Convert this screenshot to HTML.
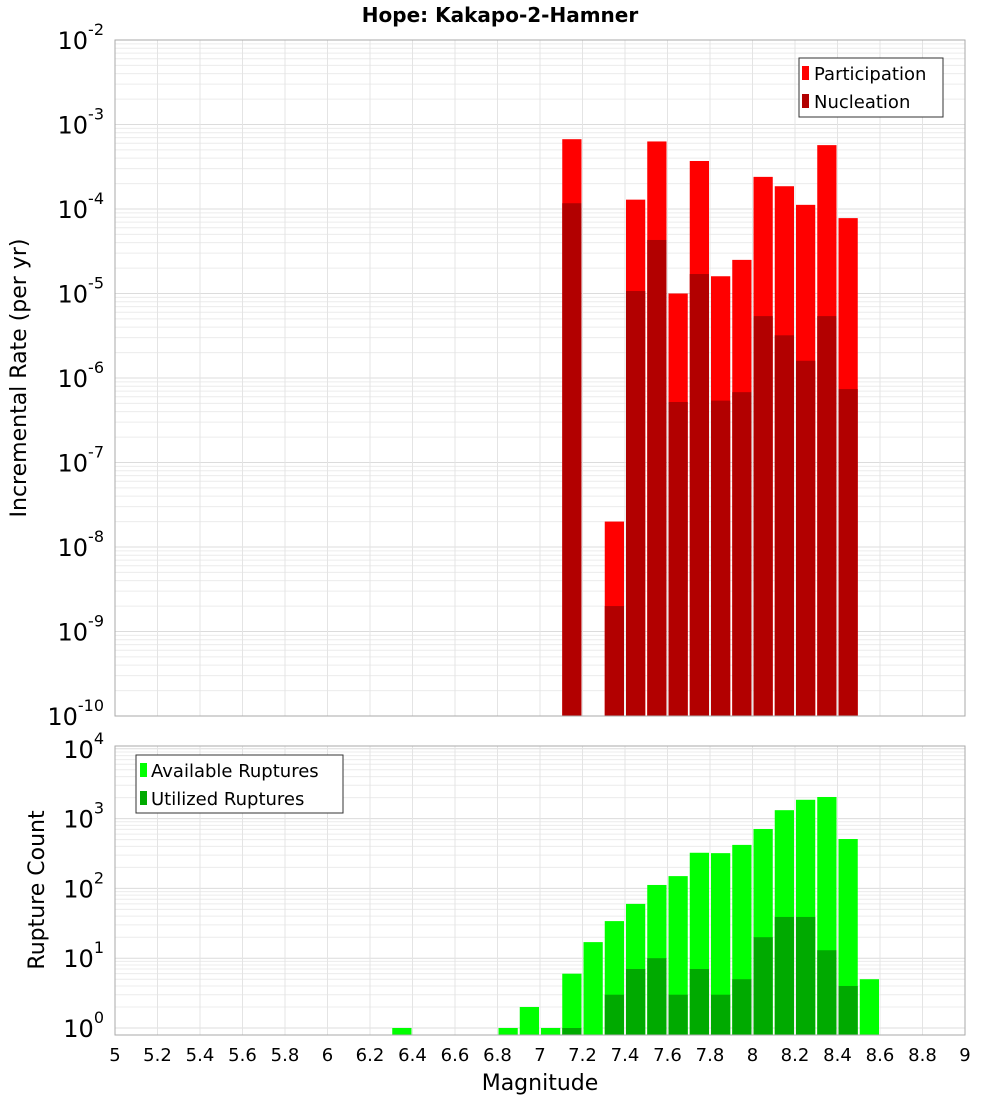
<!DOCTYPE html>
<html><head><meta charset="utf-8"><style>
body{margin:0;background:#fff;font-family:"Liberation Sans","DejaVu Sans",sans-serif}
svg text{font-family:"DejaVu Sans","Liberation Sans",sans-serif}
</style></head><body>
<svg id="c" width="1000" height="1100" xmlns="http://www.w3.org/2000/svg">
<text x="500" y="22" text-anchor="middle" font-size="20" font-weight="bold">Hope: Kakapo-2-Hamner</text>
<g id="top"></g>
<g id="bot"></g>
<text x="26" y="378" transform="rotate(-90 26 378)" text-anchor="middle" font-size="22">Incremental Rate (per yr)</text>
<text x="44" y="890" transform="rotate(-90 44 890)" text-anchor="middle" font-size="22">Rupture Count</text>
<text x="540" y="1090" text-anchor="middle" font-size="22">Magnitude</text>
<g>
<rect x="799" y="58" width="144" height="59" fill="#fff" stroke="#333"/>
<rect x="802" y="66" width="7" height="14" fill="#ff0000"/><text x="814" y="80" font-size="18">Participation</text>
<rect x="802" y="94" width="7" height="14" fill="#b20000"/><text x="814" y="108" font-size="18">Nucleation</text>
</g>
<g>
<rect x="136" y="755" width="207" height="58" fill="#fff" stroke="#333"/>
<rect x="140" y="763" width="7" height="14" fill="#00ff00"/><text x="151" y="777" font-size="18">Available Ruptures</text>
<rect x="140" y="791" width="7" height="14" fill="#00aa00"/><text x="151" y="805" font-size="18">Utilized Ruptures</text>
</g>
</svg>
<script>
const mags=[7.1,7.3,7.4,7.5,7.6,7.7,7.8,7.9,8.0,8.1,8.2,8.3,8.4];
const partic=[6.7e-4,2e-8,1.29e-4,6.3e-4,1.0e-5,3.7e-4,1.6e-5,2.5e-5,2.4e-4,1.86e-4,1.12e-4,5.7e-4,7.8e-5];
const nucl=[1.17e-4,2.0e-9,1.07e-5,4.3e-5,5.2e-7,1.7e-5,5.4e-7,6.8e-7,5.4e-6,3.2e-6,1.6e-6,5.4e-6,7.4e-7];
const cmags=[6.3,6.8,6.9,7.0,7.1,7.2,7.3,7.4,7.5,7.6,7.7,7.8,7.9,8.0,8.1,8.2,8.3,8.4,8.5];
const avail=[1,1,2,1,6,17,34,60,112,150,324,320,420,710,1320,1860,2040,510,5];
const used=[0,0,0,0,1,0,3,7,10,3,7,3,5,20,39,39,13,4,0];
const xTicks=[5,5.2,5.4,5.6,5.8,6,6.2,6.4,6.6,6.8,7,7.2,7.4,7.6,7.8,8,8.2,8.4,8.6,8.8,9];
const NS="http://www.w3.org/2000/svg";
const X0=115,X1=965;
const xs=m=>X0+(m-5)/4*(X1-X0);
const yTop=v=>40+(-2-Math.log10(v))*84.5;
const yBot=v=>1028-Math.log10(v)*69.8;
function mk(p,t,a){const e=document.createElementNS(NS,t);for(const k in a)e.setAttribute(k,a[k]);p.appendChild(e);return e;}
function panel(g,top,bot,yf,dmin,dmax,name){
  mk(g,'rect',{x:X0,y:top,width:X1-X0,height:bot-top,fill:'#fff'});
  for(let d=dmin;d<=dmax;d++){for(let k=1;k<10;k++){const y=yf(k*Math.pow(10,d));if(y<top-0.5||y>bot+0.5)continue;
    const l=mk(g,'line',{x1:X0,x2:X1,y1:y,y2:y,stroke:k==1?'#dcdcdc':'#ececec','stroke-width':1});
    
    }}
  xTicks.forEach(t=>{const l=mk(g,'line',{x1:xs(t),x2:xs(t),y1:top,y2:bot,stroke:'#e4e4e4'});
    
    });
}
function labels(g,yf,dmin,dmax,name){
  for(let d=dmin;d<=dmax;d++){const y=yf(Math.pow(10,d));
    const t=mk(g,'text',{x:104,y:y+9,'text-anchor':'end','font-size':24});
    
    
    t.textContent='10';
    const s=mk(t,'tspan',{dy:-14,'font-size':16});s.textContent=String(d);}
}
function bar(g,m,v,yf,base,fill,name){const x=xs(m)+1,w=xs(m+0.1)-xs(m)-2,y=yf(v);
  const r=mk(g,'rect',{x:x,y:y,width:w,height:base-y,fill:fill});
  
  }
const gt=document.getElementById('top');
panel(gt,40,716,yTop,-10,-2,'rate');
mags.forEach((m,i)=>{bar(gt,m,partic[i],yTop,716,'#ff0000','participation-bar');bar(gt,m,nucl[i],yTop,716,'#b20000','nucleation-bar');});
mk(gt,'rect',{x:X0,y:40,width:X1-X0,height:676,fill:'none',stroke:'#aaa'});
labels(gt,yTop,-10,-2,'rate');
const gb=document.getElementById('bot');
panel(gb,746,1035,yBot,0,4,'count');
cmags.forEach((m,i)=>{bar(gb,m,avail[i],yBot,1035,'#00ff00','available-bar');if(used[i]>0)bar(gb,m,used[i],yBot,1035,'#00aa00','utilized-bar');});
mk(gb,'rect',{x:X0,y:746,width:X1-X0,height:289,fill:'none',stroke:'#aaa'});
labels(gb,yBot,0,4,'count');
xTicks.forEach(t=>{const e=mk(gb,'text',{x:xs(t),y:1061,'text-anchor':'middle','font-size':18});
  
  
  e.textContent=String(t);});
</script>
</body></html>
